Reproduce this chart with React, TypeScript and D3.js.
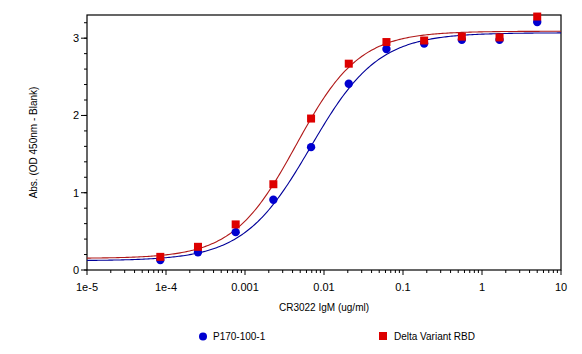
import { useRef, useEffect } from 'react';
import * as d3 from 'd3';

// 3-fold dilution series (ug/ml)
const concentrations = [5, 1.667, 0.5556, 0.1852, 0.06173, 0.02058, 0.00686, 0.002286, 0.000762, 0.000254, 0.0000847];

const p170Values = [3.21, 2.98, 2.98, 2.93, 2.86, 2.41, 1.59, 0.91, 0.49, 0.23, 0.13];
const deltaValues = [3.28, 3.01, 3.02, 2.97, 2.95, 2.67, 1.96, 1.11, 0.59, 0.3, 0.17];

// 4PL fit parameters: bottom, top, EC50, hill slope
const p170Fit = [0.12, 3.07, 0.0068, 1.02];
const deltaFit = [0.15, 3.09, 0.00445, 1.09];

const xTicks = [1e-5, 1e-4, 1e-3, 1e-2, 1e-1, 1, 10];
const xTickLabels = ['1e-5', '1e-4', '0.001', '0.01', '0.1', '1', '10'];
const yTicks = [0, 1, 2, 3];

const seriesNames = ['P170-100-1', 'Delta Variant RBD'];

export default function App() {
  const svgRef = useRef<SVGSVGElement>(null);

  useEffect(() => {
    if (!svgRef.current) return;
    const width = 582;
    const height = 354;
    const margin = { top: 15, right: 21, bottom: 84, left: 87 };
    const innerWidth = width - margin.left - margin.right;
    const innerHeight = height - margin.top - margin.bottom;

    const svg = d3.select(svgRef.current);
    svg.selectAll('*').remove();
    svg.attr('width', width).attr('height', height);

    const font = 'Liberation Sans, Arial, sans-serif';

    const x = d3.scaleLog().domain([1e-5, 10]).range([0, innerWidth]);
    const y = d3.scaleLinear().domain([0, 3.3]).range([innerHeight, 0]);

    const g = svg.append('g').attr('transform', `translate(${margin.left},${margin.top})`);

    // Frame
    g.append('rect')
      .attr('x', 0)
      .attr('y', 0)
      .attr('width', innerWidth)
      .attr('height', innerHeight)
      .attr('fill', 'none')
      .attr('stroke', '#000')
      .attr('stroke-width', 1.2);

    // X axis minor ticks
    const minorX: number[] = [];
    for (let e = -5; e < 1; e++) {
      for (let m = 2; m <= 9; m++) minorX.push(m * Math.pow(10, e));
    }
    g.selectAll('.xminor')
      .data(minorX)
      .enter()
      .append('line')
      .attr('x1', (d) => x(d))
      .attr('x2', (d) => x(d))
      .attr('y1', innerHeight)
      .attr('y2', innerHeight + 3)
      .attr('stroke', '#000');

    g.selectAll('.xmajor')
      .data(xTicks)
      .enter()
      .append('line')
      .attr('x1', (d) => x(d))
      .attr('x2', (d) => x(d))
      .attr('y1', innerHeight)
      .attr('y2', innerHeight + 5)
      .attr('stroke', '#000');

    g.selectAll('.xlabel')
      .data(xTicks)
      .enter()
      .append('text')
      .attr('x', (d) => x(d))
      .attr('y', innerHeight + 21)
      .attr('text-anchor', 'middle')
      .attr('font-family', font)
      .attr('font-size', '11px')
      .attr('fill', '#000')
      .text((_, i) => xTickLabels[i]);

    // Y axis ticks
    const minorY = d3.range(0, 3.3, 0.2);
    g.selectAll('.yminor')
      .data(minorY)
      .enter()
      .append('line')
      .attr('x1', -3)
      .attr('x2', 0)
      .attr('y1', (d) => y(d))
      .attr('y2', (d) => y(d))
      .attr('stroke', '#000');

    g.selectAll('.ymajor')
      .data(yTicks)
      .enter()
      .append('line')
      .attr('x1', -6)
      .attr('x2', 0)
      .attr('y1', (d) => y(d))
      .attr('y2', (d) => y(d))
      .attr('stroke', '#000');

    g.selectAll('.ylabel')
      .data(yTicks)
      .enter()
      .append('text')
      .attr('x', -8)
      .attr('y', (d) => y(d))
      .attr('dy', '0.35em')
      .attr('text-anchor', 'end')
      .attr('font-family', font)
      .attr('font-size', '11px')
      .attr('fill', '#000')
      .text((d) => d);

    // Axis titles
    svg
      .append('text')
      .attr('x', margin.left + innerWidth / 2)
      .attr('y', 311)
      .attr('text-anchor', 'middle')
      .attr('font-family', font)
      .attr('font-size', '10px')
      .attr('fill', '#000')
      .text('CR3022 IgM (ug/ml)');

    svg
      .append('text')
      .attr('transform', `translate(37,${margin.top + innerHeight / 2}) rotate(-90)`)
      .attr('text-anchor', 'middle')
      .attr('font-family', font)
      .attr('font-size', '10px')
      .attr('fill', '#000')
      .text('Abs. (OD 450nm - Blank)');

    // Fit curves
    const logGrid = d3.range(-5, 1.0001, 0.02).map((e) => Math.pow(10, e));
    const fourPL = (p: number[]) => (c: number) => p[0] + (p[1] - p[0]) / (1 + Math.pow(p[2] / c, p[3]));
    const line = (p: number[]) =>
      d3
        .line<number>()
        .x((c) => x(c))
        .y((c) => y(fourPL(p)(c)))(logGrid);

    g.append('path').attr('d', line(p170Fit)).attr('fill', 'none').attr('stroke', '#000099').attr('stroke-width', 1.1);
    g.append('path').attr('d', line(deltaFit)).attr('fill', 'none').attr('stroke', '#B01818').attr('stroke-width', 1.1);

    // Points
    g.selectAll('.blue')
      .data(concentrations)
      .enter()
      .append('circle')
      .attr('cx', (d) => x(d))
      .attr('cy', (_, i) => y(p170Values[i]))
      .attr('r', 4.2)
      .attr('fill', '#0000D0');

    const sq = 8;
    g.selectAll('.red')
      .data(concentrations)
      .enter()
      .append('rect')
      .attr('x', (d) => x(d) - sq / 2)
      .attr('y', (_, i) => y(deltaValues[i]) - sq / 2)
      .attr('width', sq)
      .attr('height', sq)
      .attr('fill', '#DD0000');

    // Legend
    const legend = svg.append('g');
    legend.append('circle').attr('cx', 203).attr('cy', 336.5).attr('r', 4).attr('fill', '#0000D0');
    legend
      .append('text')
      .attr('x', 213)
      .attr('y', 336.5)
      .attr('dy', '0.35em')
      .attr('font-family', font)
      .attr('font-size', '10px')
      .attr('fill', '#000')
      .text(seriesNames[0]);
    legend
      .append('rect')
      .attr('x', 379)
      .attr('y', 332)
      .attr('width', 8)
      .attr('height', 8)
      .attr('fill', '#DD0000');
    legend
      .append('text')
      .attr('x', 394)
      .attr('y', 336)
      .attr('dy', '0.35em')
      .attr('font-family', font)
      .attr('font-size', '10px')
      .attr('fill', '#000')
      .text(seriesNames[1]);
  }, []);

  return (
    <div style={{ position: 'absolute', left: 0, top: 0 }}>
      <svg ref={svgRef} style={{ display: 'block' }} />
    </div>
  );
}
